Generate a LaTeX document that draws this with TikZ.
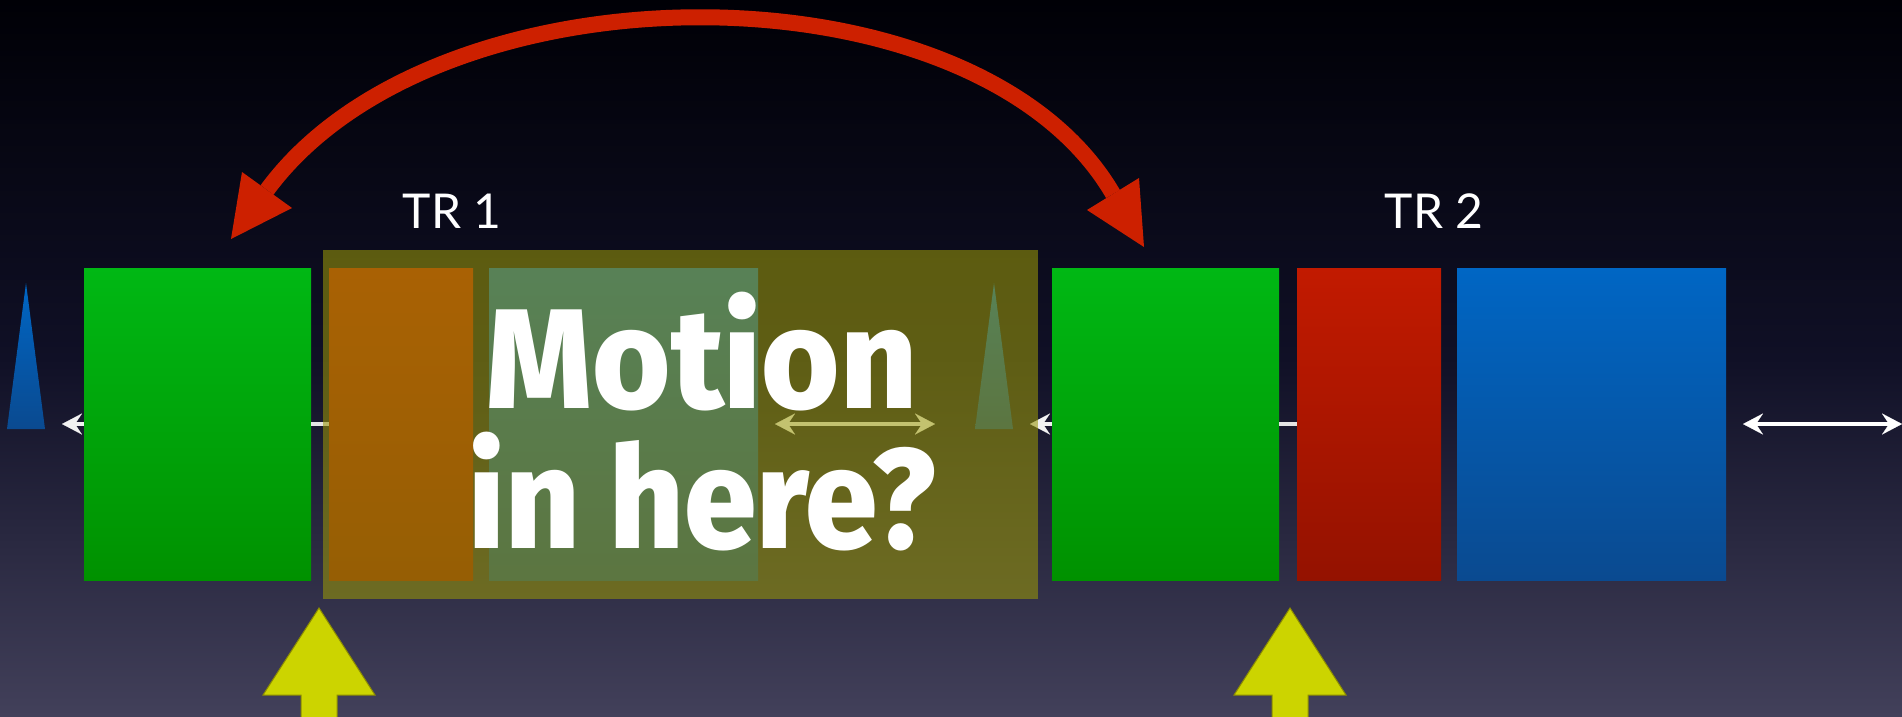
\documentclass[tikz,border=0pt]{standalone}
\usepackage{fontspec}
\setmainfont{Fira Sans}
\newfontfamily\labfont{Lato}
\newfontfamily\bigfont{Fira Sans ExtraBold}
\usetikzlibrary{arrows.meta}
\definecolor{bgtop}{RGB}{0,0,6}
\definecolor{bgmid}{RGB}{16,16,38}
\definecolor{bgbot}{RGB}{66,64,90}
\definecolor{gtop}{RGB}{0,184,20}
\definecolor{gbot}{RGB}{0,145,0}
\definecolor{rtop}{RGB}{194,26,0}
\definecolor{rbot}{RGB}{148,18,0}
\definecolor{btop}{RGB}{0,102,196}
\definecolor{bbot}{RGB}{10,74,144}
\definecolor{ovl}{RGB}{152,150,8}
\definecolor{arrred}{RGB}{205,32,0}
\definecolor{ylw}{RGB}{204,212,0}
\definecolor{ylwd}{RGB}{140,140,0}
\tikzset{
  box/.style={anchor=north west, minimum height=312pt, inner sep=0pt, outer sep=0pt, draw=none},
  gbox/.style={box, minimum width=227pt, top color=gtop, bottom color=gbot},
  rbox/.style={box, minimum width=144pt, top color=rtop, bottom color=rbot},
  bbox/.style={box, minimum width=269pt, top color=btop, bottom color=bbot},
  wline/.style={white!90!black, line width=4pt},
  wtip/.style={-{Stealth[length=20pt,width=21pt,inset=7pt,line width=0.1pt]}, white!95!black, line width=4pt},
  wdbl/.style={{Stealth[length=20pt,width=21pt,inset=7pt,line width=0.1pt]}-{Stealth[length=20pt,width=21pt,inset=7pt,line width=0.1pt]}, white, line width=4pt},
  trlabel/.style={font=\labfont\fontsize{48}{50}\selectfont, text=white, anchor=base, inner sep=0pt},
  bigtxt/.style={font=\bigfont\fontsize{142}{142}\selectfont, text=white, anchor=base, inner sep=0pt},
  uparrow/.style={fill=ylw, draw=ylwd, line width=1pt},
  redhead/.style={fill=arrred},
}
\begin{document}
\begin{tikzpicture}[x=1pt,y=-1pt]
\useasboundingbox (0,0) rectangle (1902,716);
\shade[top color=bgtop, bottom color=bgbot, middle color=bgmid] (0,0) rectangle (1902,716);

% ---- TR 1 ----
\shade[top color=btop, bottom color=bbot] (7,429) -- (26,283) -- (45,429) -- cycle;
\node[gbox] (g1) at (84,268) {};
\node[rbox] (r1) at (329,268) {};
\node[bbox] (b1) at (489,268) {};
\coordinate (t1) at (62,424);
\draw[wtip] (g1.west) -- (t1);
\draw[wline] (g1.east) -- (r1.west);
\coordinate (d1a) at (775,424);
\coordinate (d1b) at (935,424);
\draw[wdbl] (d1a) -- (d1b);

% ---- TR 2 ----
\shade[top color=btop, bottom color=bbot] (975,429) -- (994,283) -- (1013,429) -- cycle;
\node[gbox] (g2) at (1052,268) {};
\node[rbox] (r2) at (1297,268) {};
\node[bbox] (b2) at (1457,268) {};
\coordinate (t2) at (1030,424);
\draw[wtip] (g2.west) -- (t2);
\draw[wline] (g2.east) -- (r2.west);
\coordinate (d2a) at (1743,424);
\coordinate (d2b) at (1902,424);
\draw[wdbl] (d2a) -- (d2b);

% ---- overlay ----
\node[anchor=north west, minimum width=715pt, minimum height=349pt, inner sep=0pt, fill=ovl, fill opacity=0.58] (ov) at (323,250) {};

% labels
\node[trlabel] (tr1) at (452,228) {TR 1};
\node[trlabel] (tr2) at (1434,228) {TR 2};

% big text
\node[bigtxt] (m1) at (702,408) {\scalebox{0.945}[1]{Motion}};
\node[bigtxt] (m2) at (702,548) {\scalebox{0.915}[1]{in here?}};

% red curved arrow
\coordinate (ra) at (267,190);
\coordinate (rb) at (1113,194);
\draw[arrred, line width=16pt] (ra) .. controls (437,-41) and (976,-41) .. (rb);
\path[redhead] (231,239) -- (242,172) -- (292,208) -- cycle;
\path[redhead] (1144,247) -- (1139,178) -- (1087,210) -- cycle;

% yellow up arrows
\path[uparrow] (319,608) -- (375,695) -- (337,695) -- (337,718) -- (301,718) -- (301,695) -- (263,695) -- cycle;
\path[uparrow] (1290,608) -- (1346,695) -- (1308,695) -- (1308,718) -- (1272,718) -- (1272,695) -- (1234,695) -- cycle;
\end{tikzpicture}
\end{document}
